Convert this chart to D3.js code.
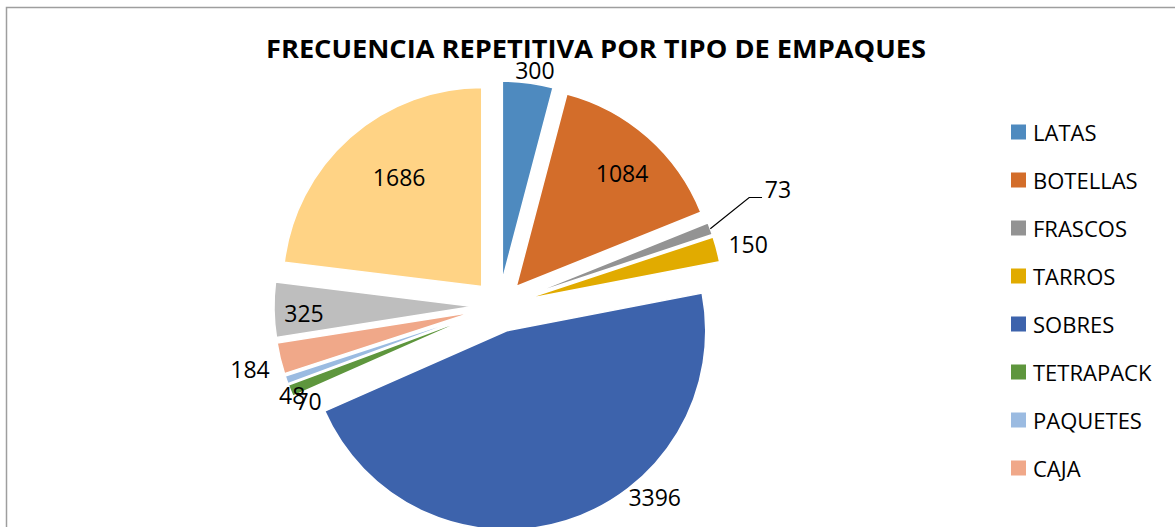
<!DOCTYPE html>
<html>
<head>
<meta charset="utf-8">
<script src="https://cdn.jsdelivr.net/npm/d3@7"></script>
<style>
  body { margin: 0; background: #fff; }
  text { font-family: "Open Sans", "DejaVu Sans", sans-serif; fill: #000; }
</style>
</head>
<body>
<div id="chart"></div>
<script>
// data (clockwise from 12 o'clock)
const categories = ['LATAS', 'BOTELLAS', 'FRASCOS', 'TARROS', 'SOBRES', 'TETRAPACK', 'PAQUETES', 'CAJA', 'BOLSAS', 'OTROS']
const values = [300, 1084, 73, 150, 3396, 70, 48, 184, 325, 1686]
const colors = ['#4E8ABF', '#D36D2A', '#939393', '#E1AB00', '#3D63AC', '#5E963D', '#9BBBE1', '#F0A889', '#BEBEBE', '#FFD385']
// the legend box only had room for the first eight entries
const legendCount = 8
// label placement: [angle in degrees, distance as a share of the radius]
const labelPlacement = [[8.8, 1.07], [43, 0.78], [67, 1.39], [76, 1.16], [138.4, 1.12],
                        [242.8, 0.94], [246.3, 1.0], [255.7, 1.16], [267.8, 0.85], [323, 0.69]]

const width = 1175, height = 527
const cx = 499, cy = 306, radius = 199, explode = 26
const rad = Math.PI / 180

const data = categories.map((c, i) => ({ name: c, value: values[i], color: colors[i], place: labelPlacement[i] }))

const svg = d3.select('#chart')
  .append('svg')
    .attr('width', width)
    .attr('height', height)

svg.append('rect')
  .attr('width', width).attr('height', height)
  .attr('fill', '#fff')

// chart area border (right and bottom run off the picture)
svg.append('rect')
  .attr('x', 6.5).attr('y', 7.5)
  .attr('width', width + 20).attr('height', height + 20)
  .attr('fill', 'none')
  .attr('stroke', '#9E9E9E')
  .attr('stroke-width', 1.5)

svg.append('text')
  .attr('x', 596).attr('y', 58)
  .attr('text-anchor', 'middle')
  .attr('font-size', 25.5)
  .attr('font-weight', 'bold')
  .attr('textLength', 660)
  .attr('lengthAdjust', 'spacingAndGlyphs')
  .text('FRECUENCIA REPETITIVA POR TIPO DE EMPAQUES')

const pie = d3.pie().sort(null).value(d => d.value)
const arcs = pie(data)

const arc = d3.arc().innerRadius(0).outerRadius(radius)

const view = svg.append('g')
  .attr('transform', 'translate(' + cx + ',' + cy + ')')

// offset of each exploded slice
arcs.forEach(a => {
  const mid = (a.startAngle + a.endAngle) / 2
  a.ox = Math.sin(mid) * explode
  a.oy = -Math.cos(mid) * explode
  a.mid = mid
})

const slices = view.selectAll('.slice')
  .data(arcs)
  .enter()
  .append('g')
  .attr('class', 'slice')
  .attr('transform', d => 'translate(' + d.ox + ',' + d.oy + ')')

slices.append('path')
  .attr('d', arc)
  .attr('fill', d => d.data.color)
  .attr('stroke', '#fff')
  .attr('stroke-width', 1.5)

// position of a label
const polar = (ang, f) => [Math.sin(ang * rad) * radius * f, -Math.cos(ang * rad) * radius * f]

slices.append('text')
  .attr('x', d => polar(d.data.place[0], d.data.place[1])[0])
  .attr('y', d => polar(d.data.place[0], d.data.place[1])[1])
  .attr('text-anchor', 'middle')
  .attr('dominant-baseline', 'central')
  .attr('font-size', 23)
  .text(d => d.data.value)

// leader line for FRASCOS
const fr = arcs[2]
const p0 = [Math.sin(fr.mid) * radius, -Math.cos(fr.mid) * radius]
const p1 = polar(66.2, 1.24)
const lbl = polar(fr.data.place[0], fr.data.place[1])
view.append('path')
  .attr('transform', 'translate(' + fr.ox + ',' + fr.oy + ')')
  .attr('d', d3.line()([p0, p1, [lbl[0] - 16, p1[1]]]))
  .attr('fill', 'none')
  .attr('stroke', '#000')
  .attr('stroke-width', 1.2)

// legend
const legend = svg.selectAll('.legend')
  .data(data.slice(0, legendCount))
  .enter()
  .append('g')
  .attr('class', 'legend')
  .attr('transform', (d, i) => 'translate(1011,' + (132 + i * 48) + ')')

legend.append('rect')
  .attr('x', 0).attr('y', -7.5)
  .attr('width', 15).attr('height', 15)
  .attr('fill', d => d.color)

legend.append('text')
  .attr('x', 22)
  .attr('y', 0)
  .attr('dominant-baseline', 'central')
  .attr('font-size', 22)
  .text(d => d.name)
</script>
</body>
</html>
